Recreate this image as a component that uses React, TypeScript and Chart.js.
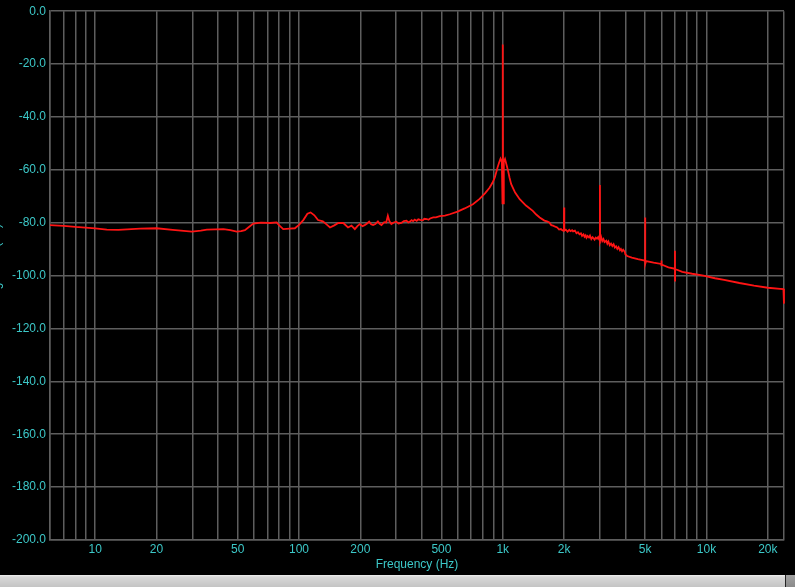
import React, { useEffect, useRef } from 'react';
import { Chart, registerables } from 'chart.js';

Chart.register(...registerables);

// Spectrum trace: frequency (Hz) and level (dB)
const freqHz: number[] = [
  6, 7, 8, 10, 11.4, 13, 16.6, 20, 24, 29.8,
  33, 35.3, 42.6, 46, 49.5, 52, 54.3, 57, 59.7, 65,
  72, 77.7, 80, 83.7, 90, 95.5, 100, 105, 110, 114,
  119, 124, 131, 137, 142, 149, 156, 165, 174, 181,
  188, 194, 199, 205, 210, 216, 221, 226, 231, 237,
  244, 249, 254, 262, 268, 273, 278, 284, 292, 300,
  308, 318, 327, 337, 344, 350, 357, 363, 370, 378,
  385, 393, 405, 412, 424, 432, 440, 456, 470, 491,
  520, 550, 600, 650, 714, 770, 820, 863, 890, 914,
  943, 960, 975, 990, 997, 1000, 1003, 1012, 1026, 1045,
  1062, 1080, 1100, 1150, 1211, 1300, 1404, 1460, 1518, 1600,
  1650, 1693, 1730, 1766, 1810, 1850, 1890, 1930, 1965, 1995,
  2000, 2005, 2040, 2080, 2120, 2150, 2190, 2214, 2260, 2300,
  2340, 2380, 2420, 2450, 2490, 2520, 2550, 2576, 2610, 2650,
  2680, 2720, 2760, 2822, 2860, 2900, 2940, 2970, 2995, 3000,
  3005, 3040, 3080, 3120, 3160, 3224, 3260, 3300, 3350, 3400,
  3450, 3500, 3550, 3600, 3650, 3700, 3760, 3800, 3850, 3900,
  3970, 4000, 4080, 4300, 4600, 4980, 4995, 5000, 5005, 5050,
  5500, 5990, 6000, 6010, 6030, 6500, 6990, 7000, 7005, 7010,
  7600, 8500, 9660, 11000, 12200, 14500, 17100, 20000, 23000, 23850,
  23990,
];
const levelDb: number[] = [
  -80.9, -81.2, -81.6, -82.1, -82.6, -82.7, -82.2, -82.1, -82.7, -83.4,
  -83.0, -82.6, -82.4, -82.8, -83.4, -83.2, -82.8, -81.5, -80.3, -80.0,
  -80.1, -79.9, -81.0, -82.4, -82.2, -82.1, -80.8, -79.0, -76.6, -76.1,
  -77.2, -79.0, -79.5, -80.7, -81.8, -81.0, -80.1, -80.1, -81.8, -81.1,
  -82.4, -81.2, -80.5, -81.3, -80.9, -80.3, -79.6, -80.6, -80.9, -80.5,
  -79.5, -80.4, -80.9, -79.8, -79.9, -77.4, -79.5, -80.5, -79.9, -79.6,
  -80.3, -80.1, -79.4, -79.2, -79.9, -79.6, -79.0, -79.4, -78.8, -79.3,
  -78.7, -78.9, -79.1, -78.5, -78.6, -78.9, -78.4, -78.0, -78.0, -77.5,
  -77.3, -76.8, -75.8, -74.6, -73.0, -71.0, -68.8, -66.7, -64.9, -62.9,
  -59.1, -57.2, -55.8, -57.0, -72.7, -12.6, -72.7, -57.0, -55.9, -58.3,
  -60.4, -63.0, -65.4, -68.6, -71.1, -73.5, -75.5, -76.9, -78.0, -79.2,
  -79.5, -79.9, -80.9, -81.1, -81.5, -81.8, -82.6, -82.4, -82.9, -83.0,
  -74.2, -83.0, -82.6, -83.4, -82.7, -83.2, -82.8, -83.3, -83.0, -84.0,
  -83.6, -84.4, -84.0, -85.0, -84.4, -85.3, -84.8, -85.7, -85.0, -85.6,
  -84.9, -86.2, -85.5, -86.4, -85.6, -86.0, -85.4, -86.3, -86.8, -65.7,
  -86.8, -85.4, -86.9, -86.2, -87.3, -86.8, -87.9, -87.1, -88.5, -87.9,
  -88.8, -88.1, -89.4, -88.9, -89.9, -89.2, -90.4, -89.9, -90.8, -90.2,
  -91.0, -92.0, -92.6, -93.2, -93.8, -94.3, -94.4, -78.0, -95.6, -94.5,
  -95.1, -95.6, -94.3, -96.4, -95.8, -96.9, -97.4, -90.6, -101.9, -97.5,
  -98.6, -99.3, -100.0, -101.0, -101.6, -102.8, -103.8, -104.6, -105.0, -105.1,
  -110.6,
];

// Axis definitions
const xMin = 6;
const xMax = 24000;
const xGridDecades = [1, 10, 100, 1000, 10000];
const xGridMultipliers = [1, 2, 3, 4, 5, 6, 7, 8, 9];
const xTickValues = [10, 20, 50, 100, 200, 500, 1000, 2000, 5000, 10000, 20000];
const xTickLabels = ['10', '20', '50', '100', '200', '500', '1k', '2k', '5k', '10k', '20k'];
const yMin = -200;
const yMax = 0;
const yStep = 20;
const xTitle = 'Frequency (Hz)';
const yTitle = 'Magnitude (dB)';

const CYAN = '#3cc8c8';
const GRID = '#5e5e5e';
const FONT = '"Liberation Sans", Arial, sans-serif';

export default function App() {
  const ref = useRef<HTMLCanvasElement | null>(null);

  useEffect(() => {
    if (!ref.current) return;
    const gridVals: number[] = [];
    xGridDecades.forEach((d) =>
      xGridMultipliers.forEach((m) => {
        const v = d * m;
        if (v >= xMin && v <= xMax) gridVals.push(v);
      })
    );
    gridVals.push(xMax);

    const yTitlePlugin = {
      id: 'yTitleCut',
      afterDraw(chart: any) {
        const ctx = chart.ctx;
        ctx.save();
        ctx.translate(-3, 265);
        ctx.rotate(-Math.PI / 2);
        ctx.font = '12px ' + FONT;
        ctx.fillStyle = CYAN;
        ctx.textAlign = 'center';
        ctx.textBaseline = 'middle';
        ctx.fillText(yTitle, 0, 0);
        ctx.restore();
      },
    };

    const chart = new Chart(ref.current, {
      type: 'line',
      data: {
        datasets: [
          {
            data: freqHz.map((f, i) => ({ x: f, y: levelDb[i] })),
            borderColor: '#ff1414',
            borderWidth: 1.8,
            pointRadius: 0,
            tension: 0,
            fill: false,
            clip: 4,
          },
        ],
      },
      options: {
        responsive: false,
        animation: false,
        events: [],
        layout: { padding: { left: 0, right: 11, top: 10, bottom: 0 } },
        plugins: { legend: { display: false }, tooltip: { enabled: false } },
        scales: {
          x: {
            type: 'logarithmic',
            min: xMin,
            max: xMax,
            afterBuildTicks: (scale: any) => {
              scale.ticks = gridVals.map((v) => ({ value: v }));
            },
            afterFit: (scale: any) => {
              scale.height = 35;
            },
            grid: { color: GRID, lineWidth: 1.5, drawTicks: false },
            border: { color: GRID, width: 1.5 },
            ticks: {
              autoSkip: false,
              maxRotation: 0,
              padding: 2,
              color: CYAN,
              font: { family: FONT, size: 12 },
              callback: (v: any) => {
                const idx = xTickValues.indexOf(Number(v));
                return idx >= 0 ? xTickLabels[idx] : '';
              },
            },
            title: {
              display: true,
              text: xTitle,
              color: CYAN,
              font: { family: FONT, size: 12 },
              padding: { top: 2, bottom: 3 },
            },
          },
          y: {
            type: 'linear',
            min: yMin,
            max: yMax,
            afterFit: (scale: any) => {
              scale.width = 50;
            },
            grid: { color: GRID, lineWidth: 1.5, drawTicks: false },
            border: { color: GRID, width: 1.5 },
            ticks: {
              stepSize: yStep,
              padding: 4,
              color: CYAN,
              font: { family: FONT, size: 12 },
              callback: (v: any) => (Number(v) === 0 ? '0.0' : Number(v).toFixed(1)),
            },
          },
        },
      },
      plugins: [yTitlePlugin],
    });
    return () => chart.destroy();
  }, []);

  return (
    <div style={{ position: 'fixed', left: 0, top: 0, width: 795, height: 587, background: '#000', overflow: 'hidden' }}>
      <canvas ref={ref} width={795} height={575} style={{ display: 'block', width: 795, height: 575 }} />
      <div
        style={{
          position: 'absolute',
          left: 0,
          top: 575,
          width: 785,
          height: 12,
          background: 'linear-gradient(#f0f0f0 0px, #d8d8d8 2px, #c4c4c4 12px)',
        }}
      />
      <div
        style={{
          position: 'absolute',
          left: 785,
          top: 575,
          width: 10,
          height: 12,
          background: 'linear-gradient(#a0a0a0, #8a8a8a)',
          borderLeft: '1px solid #222',
        }}
      />
    </div>
  );
}
